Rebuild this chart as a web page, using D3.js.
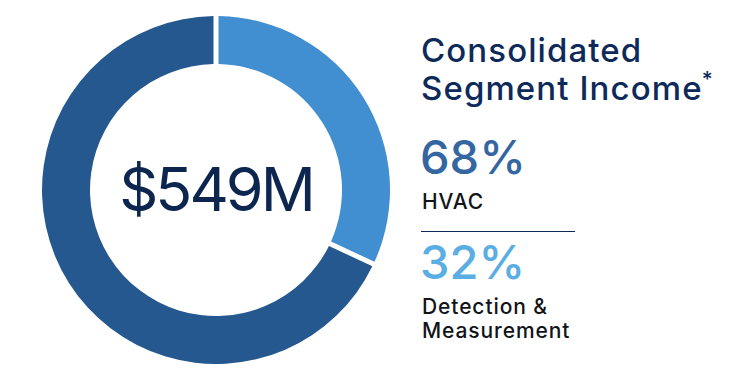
<!DOCTYPE html>
<html>
<head>
<meta charset="utf-8">
<script src="https://cdn.jsdelivr.net/npm/d3@7"></script>
<style>
  html, body { margin: 0; padding: 0; background: #fff; }
  svg { display: block; }
  text { font-family: Inter, "Liberation Sans", Arial, sans-serif; }
</style>
</head>
<body>
<svg id="chart" width="750" height="380"></svg>
<script>
// Data
const segments = ["Detection & Measurement", "HVAC"];
const shares = [32, 68];
const segmentColors = ["#418ed1", "#25588f"];
const totalLabel = "$549M";
const titleLines = ["Consolidated", "Segment Income"];
const legendPctColors = { "HVAC": "#3466a1", "Detection & Measurement": "#5aaee3" };
const legendLabelLines = { "HVAC": ["HVAC"], "Detection & Measurement": ["Detection &", "Measurement"] };

const svg = d3.select("#chart");
const cx = 216, cy = 190, R = 174, r = 126;

const pie = d3.pie().sort(null).value(d => d.v);
const arc = d3.arc().innerRadius(r).outerRadius(R).padAngle(5 / 174).padRadius(R);
const data = segments.map((s, i) => ({ name: s, v: shares[i], c: segmentColors[i] }));

const g = svg.append("g").attr("transform", `translate(${cx},${cy})`);
g.selectAll("path").data(pie(data)).join("path")
  .attr("d", arc)
  .attr("fill", d => d.data.c);

g.append("text")
  .attr("x", 0).attr("y", 21)
  .attr("text-anchor", "middle")
  .attr("font-family", "'Liberation Sans', Arial, sans-serif")
  .attr("font-size", 61)
  .attr("letter-spacing", -3)
  .attr("fill", "#0d2650")
  .text(totalLabel);

// Title
const tx = 421;
const title = svg.append("g").attr("font-weight", 500);
title.append("text").attr("x", tx).attr("y", 62)
  .attr("font-size", 33).attr("letter-spacing", 1.1).attr("fill", "#0e2a5a").text(titleLines[0]);
const t2 = title.append("text").attr("x", tx).attr("y", 100)
  .attr("font-size", 33).attr("letter-spacing", 1.1).attr("fill", "#0e2a5a");
t2.append("tspan").text(titleLines[1]);
t2.append("tspan").attr("font-size", 21).attr("dy", -13).attr("dx", -1).text("*");

// Legend entries
const order = ["HVAC", "Detection & Measurement"];
const ys = { "HVAC": 174, "Detection & Measurement": 279 };
order.forEach(name => {
  const i = segments.indexOf(name);
  svg.append("text").attr("x", tx - 1).attr("y", ys[name])
    .attr("font-size", 47).attr("font-weight", 500).attr("fill", legendPctColors[name])
    .text(shares[i] + "%");
  legendLabelLines[name].forEach((line, k) => {
    svg.append("text").attr("x", tx + 1).attr("y", ys[name] + 35 + k * 24)
      .attr("font-size", 21).attr("font-weight", 500).attr("letter-spacing", 0.9)
      .attr("fill", "#111418")
      .text(line);
  });
});

svg.append("line")
  .attr("x1", tx).attr("x2", 575)
  .attr("y1", 231.5).attr("y2", 231.5)
  .attr("stroke", "#0e2a5a").attr("stroke-width", 1);
</script>
</body>
</html>
